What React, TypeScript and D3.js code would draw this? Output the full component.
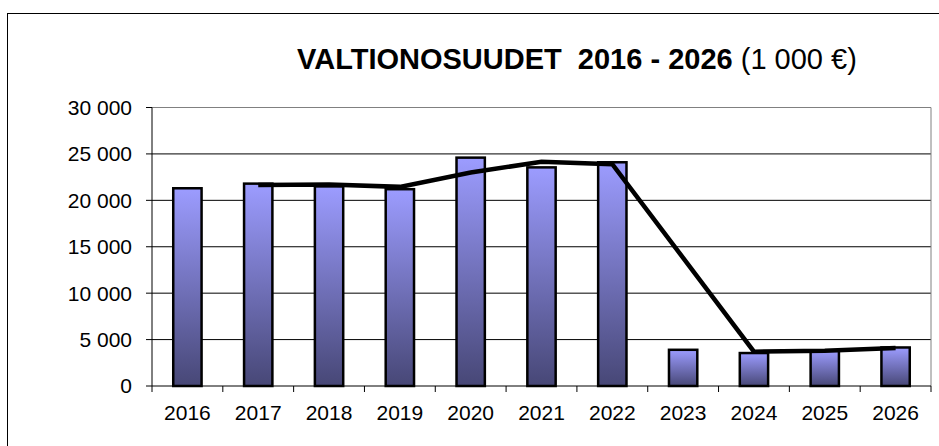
import React from "react";
import * as d3 from "d3";

const years = ["2016", "2017", "2018", "2019", "2020", "2021", "2022", "2023", "2024", "2025", "2026"];
const barValues = [21300, 21800, 21500, 21200, 24600, 23550, 24100, 3900, 3550, 3800, 4150];
const lineValues: (number | null)[] = [null, 21650, 21700, 21450, 23000, 24150, 23900, null, 3700, 3800, 4100];
const yTicks = [0, 5000, 10000, 15000, 20000, 25000, 30000];
const titleBold = "VALTIONOSUUDET  2016 - 2026";
const titleRegular = " (1 000 €)";

const W = 939;
const H = 446;
const left = 152;
const right = 931;
const top = 107.5;
const bottom = 386;

const fmt = (v: number) => (v >= 1000 ? `${Math.floor(v / 1000)} ${String(v % 1000).padStart(3, "0")}` : String(v));

export default function App() {
  const x = d3.scaleBand<string>().domain(years).range([left, right]).paddingInner(0).paddingOuter(0);
  const y = d3.scaleLinear().domain([0, 30000]).range([bottom, top]);
  const bw = x.bandwidth() * 0.4;
  const pts = years
    .map((yr, i) => ({ yr, v: lineValues[i] }))
    .filter((d) => d.v !== null) as { yr: string; v: number }[];
  const line = d3
    .line<{ yr: string; v: number }>()
    .x((d) => (x(d.yr) as number) + x.bandwidth() / 2)
    .y((d) => y(d.v));
  const font = "'Liberation Sans', Arial, sans-serif";
  return (
    <svg width={W} height={H} style={{ position: "absolute", left: 0, top: 0, background: "#fff" }} fontFamily={font}>
      <defs>
        <linearGradient id="barGrad" x1="0" y1="0" x2="0" y2="1">
          <stop offset="0%" stopColor="#9c9cff" />
          <stop offset="100%" stopColor="#474776" />
        </linearGradient>
      </defs>
      <rect x={7.5} y={13.5} width={W + 20} height={H + 20} fill="#fff" stroke="#000" strokeWidth={1} />
      <text x={297} y={69} fontSize={29} fill="#000">
        <tspan fontWeight="bold">{titleBold.replace("  ", "\u00a0 ")}</tspan>
        <tspan>{titleRegular}</tspan>
      </text>
      {yTicks.slice(1, -1).map((t) => (
        <line key={t} x1={left} x2={right} y1={y(t)} y2={y(t)} stroke="#000" strokeWidth={1} />
      ))}
      <line x1={left} x2={right} y1={top} y2={top} stroke="#808080" strokeWidth={1} />
      <line x1={right} x2={right} y1={top} y2={bottom} stroke="#808080" strokeWidth={1} />
      {years.map((yr, i) => (
        <rect
          key={yr}
          x={(x(yr) as number) + x.bandwidth() / 2 - bw / 2}
          y={y(barValues[i])}
          width={bw}
          height={bottom - y(barValues[i])}
          fill="url(#barGrad)"
          stroke="#000"
          strokeWidth={2.5}
        />
      ))}
      <path d={line(pts) || ""} fill="none" stroke="#000" strokeWidth={4.5} strokeLinejoin="miter" />
      <line x1={left} x2={left} y1={top} y2={bottom} stroke="#000" strokeWidth={1} />
      <line x1={left} x2={right} y1={bottom} y2={bottom} stroke="#000" strokeWidth={1} />
      {yTicks.map((t) => (
        <g key={t}>
          <line x1={left - 6} x2={left} y1={y(t)} y2={y(t)} stroke="#000" />
          <text x={132} y={y(t)} dy="0.35em" textAnchor="end" fontSize={21} fill="#000">
            {fmt(t)}
          </text>
        </g>
      ))}
      {years.map((yr) => (
        <line key={"t" + yr} x1={x(yr) as number} x2={x(yr) as number} y1={bottom} y2={bottom + 6} stroke="#000" />
      ))}
      <line x1={right} x2={right} y1={bottom} y2={bottom + 6} stroke="#000" />
      {years.map((yr) => (
        <text key={"l" + yr} x={(x(yr) as number) + x.bandwidth() / 2} y={420} textAnchor="middle" fontSize={21} fill="#000">
          {yr}
        </text>
      ))}
    </svg>
  );
}
